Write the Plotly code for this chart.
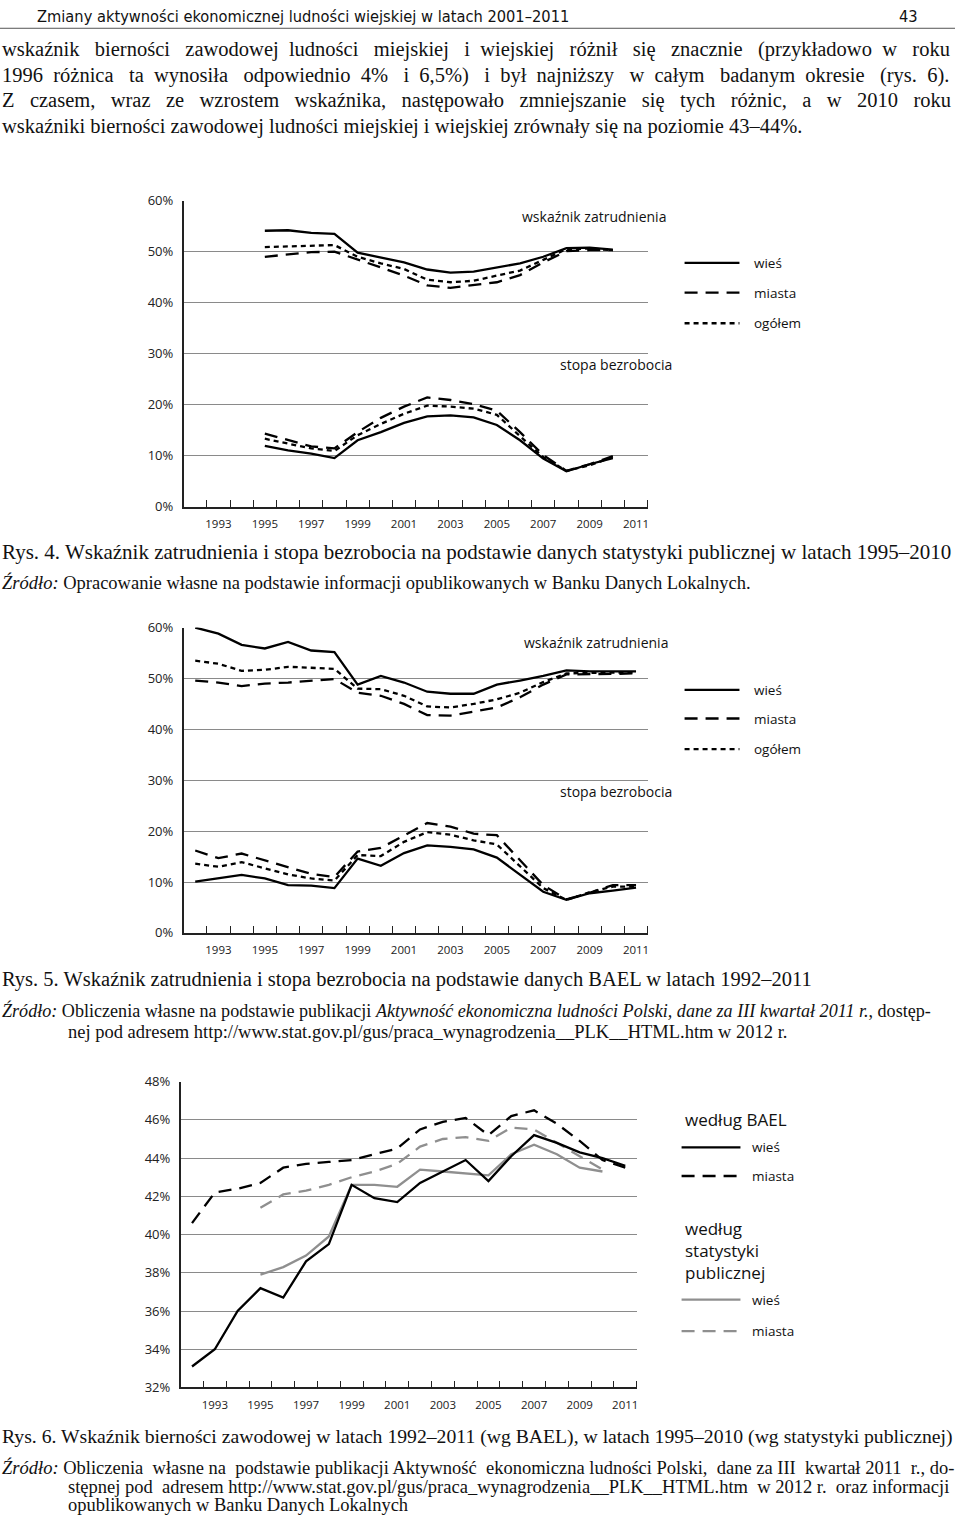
import plotly.graph_objects as go

# ---------------- data ----------------
years_r4 = list(range(1995, 2011))
emp_r4_wies = [54.1, 54.2, 53.7, 53.5, 49.8, 48.8, 47.9, 46.5, 45.9, 46.1, 46.9, 47.7, 49.0, 50.7, 50.8, 50.4]
emp_r4_miasta = [49.0, 49.5, 49.9, 50.0, 48.5, 46.9, 45.3, 43.4, 42.9, 43.4, 44.0, 45.4, 47.9, 50.1, 50.3, 50.3]
emp_r4_ogolem = [50.9, 51.0, 51.2, 51.3, 49.0, 47.7, 46.6, 44.5, 44.0, 44.3, 45.3, 46.3, 48.4, 50.5, 50.6, 50.3]
unemp_r4_wies = [11.9, 11.0, 10.4, 9.5, 13.0, 14.6, 16.4, 17.7, 17.9, 17.5, 16.0, 13.0, 9.4, 6.9, 8.3, 9.5]
unemp_r4_miasta = [14.3, 13.0, 11.8, 11.4, 14.6, 17.4, 19.6, 21.4, 20.9, 20.1, 18.8, 14.6, 10.1, 7.0, 8.3, 9.9]
unemp_r4_ogolem = [13.3, 12.3, 11.4, 10.9, 14.0, 16.2, 18.2, 19.8, 19.6, 19.2, 18.0, 13.8, 9.7, 7.0, 8.1, 9.7]

years_r5 = list(range(1992, 2012))
emp_r5_wies = [60.0, 58.8, 56.6, 55.9, 57.2, 55.5, 55.2, 48.8, 50.5, 49.2, 47.4, 47.0, 47.0, 48.8, 49.6, 50.5, 51.6, 51.4, 51.4, 51.4]
emp_r5_miasta = [49.6, 49.2, 48.5, 49.0, 49.2, 49.5, 49.9, 47.2, 46.6, 45.0, 42.8, 42.7, 43.5, 44.3, 46.3, 48.8, 50.8, 50.8, 50.9, 51.0]
emp_r5_ogolem = [53.5, 52.9, 51.5, 51.7, 52.3, 52.1, 51.9, 48.0, 47.9, 46.6, 44.5, 44.3, 45.0, 45.9, 47.2, 49.3, 51.0, 51.1, 51.2, 51.2]
unemp_r5_wies = [10.1, 10.7, 11.4, 10.7, 9.4, 9.3, 8.8, 14.6, 13.2, 15.7, 17.2, 16.9, 16.4, 14.8, 11.5, 8.1, 6.5, 7.8, 8.3, 8.9]
unemp_r5_miasta = [16.2, 14.7, 15.6, 14.3, 13.0, 11.6, 11.0, 16.0, 16.7, 19.2, 21.6, 20.9, 19.5, 19.2, 14.3, 9.4, 6.6, 7.9, 9.4, 9.4]
unemp_r5_ogolem = [13.6, 13.0, 13.9, 12.7, 11.5, 10.7, 10.3, 15.3, 15.1, 17.9, 19.8, 19.3, 18.2, 17.4, 13.0, 8.8, 6.5, 8.0, 9.1, 9.1]

years_r6_bael = list(range(1992, 2012))
bael_wies = [33.1, 34.0, 36.0, 37.2, 36.7, 38.6, 39.5, 42.6, 41.9, 41.7, 42.7, 43.3, 43.9, 42.8, 44.1, 45.2, 44.8, 44.3, 44.0, 43.6]
bael_miasta = [40.6, 42.2, 42.4, 42.7, 43.5, 43.7, 43.8, 43.9, 44.2, 44.5, 45.5, 45.9, 46.1, 45.2, 46.2, 46.5, 45.8, 44.9, 43.9, 43.5]
years_r6_stat = list(range(1995, 2011))
stat_wies = [37.9, 38.3, 38.9, 39.9, 42.6, 42.6, 42.5, 43.4, 43.3, 43.2, 43.1, 44.2, 44.7, 44.2, 43.5, 43.3]
stat_miasta = [41.4, 42.1, 42.3, 42.6, 43.0, 43.3, 43.7, 44.6, 45.0, 45.1, 44.9, 45.6, 45.5, 44.8, 44.1, 43.4]

year_labels = [1993, 1995, 1997, 1999, 2001, 2003, 2005, 2007, 2009, 2011]
pct_ticks_a = [0, 10, 20, 30, 40, 50, 60]
pct_ticks_b = [32, 34, 36, 38, 40, 42, 44, 46, 48]

# ---------------- helpers ----------------
W, H = 960, 1521
def X(px): return px / W
def Y(py): return 1 - py / H

SANS = "Open Sans, Lato, sans-serif"
SERIF = "Liberation Serif, Times New Roman, serif"
NARROW = "Liberation Sans Narrow, DejaVu Sans Condensed, Roboto, sans-serif"
LONG = "13px,8px"
SHORT = "5px,4px"
NB = "\u00a0"

fig = go.Figure()

def add(x, y, ax, color="black", dash="solid", width=2.3):
    fig.add_trace(go.Scatter(x=x, y=y, mode="lines", xaxis=ax[0], yaxis=ax[1],
                             line=dict(color=color, dash=dash, width=width),
                             showlegend=False, hoverinfo="skip"))

# Rys. 4
a1 = ("x", "y")
add(years_r4, emp_r4_wies, a1)
add(years_r4, emp_r4_miasta, a1, dash=LONG)
add(years_r4, emp_r4_ogolem, a1, dash=SHORT)
add(years_r4, unemp_r4_wies, a1)
add(years_r4, unemp_r4_miasta, a1, dash=LONG)
add(years_r4, unemp_r4_ogolem, a1, dash=SHORT)
# Rys. 5
a2 = ("x2", "y2")
add(years_r5, emp_r5_wies, a2)
add(years_r5, emp_r5_miasta, a2, dash=LONG)
add(years_r5, emp_r5_ogolem, a2, dash=SHORT)
add(years_r5, unemp_r5_wies, a2)
add(years_r5, unemp_r5_miasta, a2, dash=LONG)
add(years_r5, unemp_r5_ogolem, a2, dash=SHORT)
# Rys. 6
a3 = ("x3", "y3")
GREY = "#8f8f8f"
add(years_r6_stat, stat_miasta, a3, color=GREY, dash=LONG)
add(years_r6_stat, stat_wies, a3, color=GREY)
add(years_r6_bael, bael_miasta, a3, dash=LONG)
add(years_r6_bael, bael_wies, a3)

def xaxis(dom):
    return dict(domain=dom, range=[1991.5, 2011.5], tickmode="array", tickvals=year_labels,
                ticks="", showgrid=False, zeroline=False, showline=True, linecolor="#222",
                linewidth=1.5, tickfont=dict(family=SANS, size=11.5, color="#222"),
                ticklabelstandoff=6,
                minor=dict(ticks="inside", tick0=1991.5, dtick=1, ticklen=7,
                           tickcolor="#222", tickwidth=1.3, showgrid=False))

def yaxis(dom, rng, vals, anchor):
    return dict(domain=dom, range=rng, tickmode="array", tickvals=vals,
                ticktext=[f"{v}%" for v in vals], showgrid=True, gridcolor="#8a8a8a",
                gridwidth=1, zeroline=False, showline=True, linecolor="#222", linewidth=1.5,
                ticks="", tickfont=dict(family=SANS, size=13, color="#222"),
                ticklabelstandoff=6, anchor=anchor)

fig.update_layout(
    width=W, height=H, margin=dict(l=0, r=0, t=0, b=0),
    paper_bgcolor="white", plot_bgcolor="white", showlegend=False,
    xaxis=dict(xaxis([X(184), X(649)]), anchor="y"),
    yaxis=yaxis([Y(503.5), Y(194)], [0, 60], pct_ticks_a, "x"),
    xaxis2=dict(xaxis([X(184), X(649)]), anchor="y2"),
    yaxis2=yaxis([Y(935), Y(626)], [0, 60], pct_ticks_a, "x2"),
    xaxis3=dict(xaxis([X(181), X(638)]), anchor="y3"),
    yaxis3=yaxis([Y(1395), Y(1085.5)], [32, 48], pct_ticks_b, "x3"),
)

ann = []
shapes = []
def text(px, py, t, size, family=SANS, anchor="left", color="#111"):
    ann.append(dict(x=X(px), y=Y(py), xref="paper", yref="paper", text=t, showarrow=False,
                    xanchor=anchor, yanchor="middle", align="left",
                    font=dict(family=family, size=size, color=color)))

def justify(line, extra):
    """spread `extra` non-breaking spaces evenly over the word gaps of a justified line"""
    words = line.split(" ")
    gaps = len(words) - 1
    out = words[0]
    acc = 0.0
    for i, w in enumerate(words[1:]):
        target = round(extra * (i + 1) / gaps)
        k = int(target - acc)
        acc += k
        out += " " + NB * k + w
    return out

def seg(x0, x1, py, dash, color="black", width=2.3):
    shapes.append(dict(type="line", xref="paper", yref="paper", x0=X(x0), x1=X(x1),
                       y0=Y(py), y1=Y(py), line=dict(color=color, dash=dash, width=width)))

# header
text(35, 7.5, "Zmiany aktywności ekonomicznej ludności wiejskiej w latach 2001–2011", 16.3, family=NARROW)
text(922, 7.5, "43", 16.3, family=NARROW, anchor="right")
shapes.append(dict(type="line", xref="paper", yref="paper", x0=0, x1=X(957), y0=Y(19.5), y1=Y(19.5),
                   line=dict(color="#555", width=1)))

BODY = 20.5
body = [
    ("wskaźnik bierności zawodowej ludności miejskiej i wiejskiej różnił się znacznie (przykładowo w roku", 21),
    ("1996 różnica ta wynosiła odpowiednio 4% i 6,5%) i był najniższy w całym badanym okresie (rys. 6).", 23),
    ("Z czasem, wraz ze wzrostem wskaźnika, następowało zmniejszanie się tych różnic, a w 2010 roku", 28),
    ("wskaźniki bierności zawodowej ludności miejskiej i wiejskiej zrównały się na poziomie 43–44%.", 0),
]
for i, (line, extra) in enumerate(body):
    text(0, 41 + i * 26, justify(line, extra), BODY, family=SERIF)

SRC = 18.5
# chart 1 labels
text(595, 210, "wskaźnik zatrudnienia", 14, anchor="center")
text(617, 360, "stopa bezrobocia", 14, anchor="center")
for py, dash, lab in [(257, "solid", "wieś"), (287, LONG, "miasta"), (318, SHORT, "ogółem")]:
    seg(686, 741, py, dash)
    text(754, py, lab, 13.5)

# captions Rys 4
text(0, 549, "Rys. 4. Wskaźnik zatrudnienia i stopa bezrobocia na podstawie danych statystyki publicznej w latach 1995–2010", 21, family=SERIF)
text(0, 580, "<i>Źródło:</i> Opracowanie własne na podstawie informacji opublikowanych w Banku Danych Lokalnych.", SRC, family=SERIF)

# chart 2 labels
text(597, 641, "wskaźnik zatrudnienia", 14, anchor="center")
text(617, 792, "stopa bezrobocia", 14, anchor="center")
for py, dash, lab in [(689, "solid", "wieś"), (718, LONG, "miasta"), (749, SHORT, "ogółem")]:
    seg(686, 741, py, dash)
    text(754, py, lab, 13.5)

text(0, 982, "Rys. 5. Wskaźnik zatrudnienia i stopa bezrobocia na podstawie danych BAEL w latach 1992–2011", 20.5, family=SERIF)
text(0, 1013, "<i>Źródło:</i> Obliczenia własne na podstawie publikacji <i>Aktywność ekonomiczna ludności Polski, dane za III kwartał 2011 r.</i>, dostęp-", 18.1, family=SERIF)
text(66, 1035, "nej pod adresem http://www.stat.gov.pl/gus/praca_wynagrodzenia__PLK__HTML.htm w 2012 r.", SRC, family=SERIF)

# chart 3 legend
text(684, 1124, "według BAEL", 17)
seg(683, 742, 1152, "solid")
text(752, 1152, "wieś", 13.5)
seg(683, 742, 1181, LONG)
text(752, 1181, "miasta", 13.5)
text(684, 1234, "według", 17)
text(684, 1256, "statystyki", 17)
text(684, 1279, "publicznej", 17)
seg(683, 742, 1306, "solid", color=GREY)
text(752, 1306, "wieś", 13.5)
seg(683, 742, 1338, LONG, color=GREY)
text(752, 1338, "miasta", 13.5)

text(0, 1445, "Rys. 6. Wskaźnik bierności zawodowej w latach 1992–2011 (wg BAEL), w latach 1995–2010 (wg statystyki publicznej)", 19.7, family=SERIF)
text(0, 1476, justify("<i>Źródło:</i> Obliczenia własne na podstawie publikacji Aktywność ekonomiczna ludności Polski, dane za III kwartał 2011 r., do-", 6), SRC, family=SERIF)
text(66, 1496, justify("stępnej pod adresem http://www.stat.gov.pl/gus/praca_wynagrodzenia__PLK__HTML.htm w 2012 r. oraz informacji", 3), SRC, family=SERIF)
text(66, 1514, "opublikowanych w Banku Danych Lokalnych", SRC, family=SERIF)

fig.update_layout(annotations=ann, shapes=shapes)
fig.write_html("out.html", config={"displayModeBar": False},
               post_script="document.body.style.margin='0';document.body.style.padding='0';")
